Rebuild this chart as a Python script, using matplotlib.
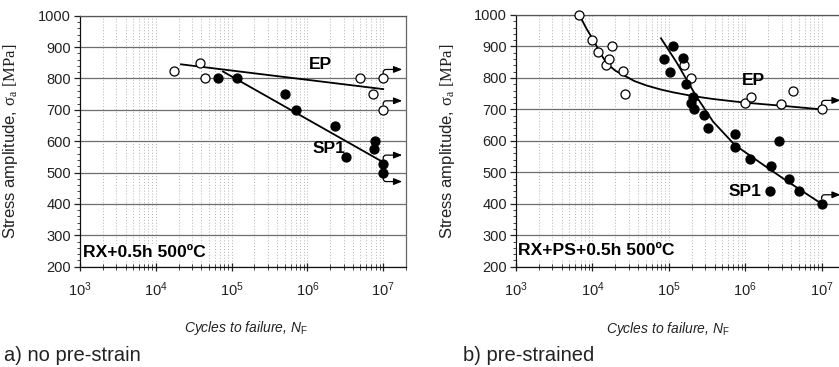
import matplotlib
matplotlib.use("Agg")
import matplotlib.pyplot as plt
import matplotlib.transforms as mtransforms
from matplotlib.ticker import LogLocator, FixedLocator, FixedFormatter, MultipleLocator, NullFormatter

plt.rcParams['font.family'] = ['Liberation Sans', 'DejaVu Sans']
plt.rcParams['mathtext.fontset'] = 'custom'
plt.rcParams['mathtext.rm'] = 'Liberation Sans'
plt.rcParams['mathtext.it'] = 'Liberation Sans:italic'
plt.rcParams['mathtext.bf'] = 'Liberation Sans:bold'
plt.rcParams['mathtext.tt'] = 'Liberation Serif'

# ---------------- data: panel a) no pre-strain ----------------
a_ep_N = [1.75e4, 3.8e4, 4.5e4, 5.0e6, 7.3e6, 1.0e7, 1.0e7]
a_ep_S = [825, 850, 800, 800, 750, 800, 700]
a_sp_N = [6.7e4, 1.17e5, 5.0e5, 7.1e5, 2.3e6, 3.2e6, 7.7e6, 7.6e6, 1.0e7, 1.0e7]
a_sp_S = [800, 800, 750, 700, 650, 550, 600, 575, 527, 500]
a_ep_fit_N = [2.15e4, 1.0e7]
a_ep_fit_S = [845, 766]
a_sp_fit_N = [7.7e4, 1.0e7]
a_sp_fit_S = [822, 533]
# run-outs (N, S, arrow direction)
a_runouts = [(1.0e7, 800, 1), (1.0e7, 700, 1), (1.0e7, 527, 1), (1.0e7, 500, -1)]

# ---------------- data: panel b) pre-strained ----------------
b_ep_N = [6.75e3, 1.0e4, 1.17e4, 1.49e4, 1.65e4, 1.82e4, 2.5e4, 2.7e4,
          1.6e5, 1.95e5, 1.0e6, 1.19e6, 2.9e6, 4.2e6, 1.0e7]
b_ep_S = [1000, 920, 881, 841, 860, 900, 821, 749,
          840, 801, 720, 740, 718, 760, 700]
b_sp_N = [8.7e4, 1.05e5, 1.15e5, 1.55e5, 1.7e5, 2.05e5, 1.95e5, 2.15e5,
          2.9e5, 3.3e5, 7.4e5, 7.4e5, 1.15e6, 2.15e6, 2.1e6, 2.8e6, 3.7e6, 5.1e6, 1.0e7]
b_sp_S = [860, 819, 900, 862, 780, 740, 720, 700,
          681, 640, 621, 580, 541, 520, 440, 600, 480, 441, 400]
b_ep_fit_N = [6.75e3, 8.3e3, 1.03e4, 1.26e4, 1.54e4, 2.0e4, 2.54e4, 3.55e4, 5.1e4,
              7.9e4, 1.15e5, 2.1e5, 3.8e5, 9.4e5, 3.2e6, 1.0e7]
b_ep_S_fit = [1000, 958, 920, 880, 846, 823, 809, 790, 776,
              763, 754, 742, 733, 722, 711, 700]
b_sp_fit_N = [7.9e4, 1.26e5, 2.0e5, 2.34e5, 3.8e5, 7.3e5, 2.0e6, 3.16e6, 5.6e6, 1.0e7]
b_sp_fit_S = [926, 850, 766, 738, 661, 587, 513, 480, 440, 400]
b_runouts = [(1.0e7, 700, 1), (1.0e7, 400, 1)]

x_ticks = [1e3, 1e4, 1e5, 1e6, 1e7]
x_ticklabels = [r'$10^{3}$', r'$10^{4}$', r'$10^{5}$', r'$10^{6}$', r'$10^{7}$']
y_ticks = [200, 300, 400, 500, 600, 700, 800, 900, 1000]

W, H = 839, 367
fig = plt.figure(figsize=(W / 100, H / 100), dpi=100)

def px_axes(x0, x1, ytop, ybot):
    return fig.add_axes([x0 / W, 1 - ybot / H, (x1 - x0) / W, (ybot - ytop) / H])

ax_a = px_axes(80, 406, 15.7, 266.7)
ax_b = px_axes(516, 844.6, 15.0, 266.7)


def style_axes(ax):
    ax.set_xscale('log')
    ax.set_xlim(1e3, 2e7)
    ax.set_ylim(200, 1000)
    ax.xaxis.set_major_locator(FixedLocator(x_ticks))
    ax.xaxis.set_major_formatter(FixedFormatter(x_ticklabels))
    ax.xaxis.set_minor_locator(LogLocator(base=10, subs=range(2, 10), numticks=20))
    ax.xaxis.set_minor_formatter(NullFormatter())
    ax.yaxis.set_major_locator(FixedLocator(y_ticks))
    ax.yaxis.set_minor_locator(MultipleLocator(20))
    ax.tick_params(axis='y', which='major', direction='out', length=4.5, width=0.9,
                   labelsize=10.5, pad=2, colors='#222222')
    ax.tick_params(axis='y', which='minor', direction='out', length=2.2, width=0.7, colors='#444444')
    ax.tick_params(axis='x', which='major', direction='inout', length=6, width=0.9,
                   labelsize=10.5, pad=7, colors='#222222')
    ax.tick_params(axis='x', which='minor', direction='inout', length=4, width=0.7, colors='#444444')
    ax.grid(True, axis='y', which='major', color='#6e6e6e', lw=0.9, ls='-')
    ax.grid(True, axis='x', which='both', color='#b4b4b4', lw=0.7, ls=(0, (1, 2)))
    ax.set_axisbelow(True)
    ax.spines['left'].set_color('#111111')
    ax.spines['bottom'].set_color('#111111')
    ax.spines['top'].set_color('#555555')
    ax.spines['right'].set_color('#666666')
    for s in ax.spines.values():
        s.set_linewidth(0.9)
    ax.set_ylabel(r'Stress amplitude, $\mathtt{\sigma}_{\mathtt{a}}$ $\mathtt{[MPa]}$',
                  fontsize=12, color='#222222')
    ax.set_xlabel(r'Cycles to failure, $N_{\mathrm{F}}$', fontsize=10, style='italic',
                  color='#222222')


def draw_runouts(ax, runouts):
    for (n, s, d) in runouts:
        tr = mtransforms.offset_copy(ax.transData, fig=fig, x=19, y=9 * d, units='dots')
        ax.annotate('', xy=(n, s), xycoords=tr, xytext=(n, s), textcoords='data',
                    arrowprops=dict(arrowstyle='-|>,head_length=0.5,head_width=0.2',
                                    connectionstyle='angle,angleA=90,angleB=0,rad=3',
                                    lw=0.9, color='black', shrinkA=3.5, shrinkB=0),
                    annotation_clip=False)


for ax in (ax_a, ax_b):
    style_axes(ax)

# ---- panel a ----
ax_a.plot(a_ep_fit_N, a_ep_fit_S, color='black', lw=1.3, zorder=3)
ax_a.plot(a_sp_fit_N, a_sp_fit_S, color='black', lw=1.3, zorder=3)
ax_a.plot(a_ep_N, a_ep_S, 'o', ms=6.5, mfc='white', mec='black', mew=0.9, zorder=4)
ax_a.plot(a_sp_N, a_sp_S, 'o', ms=6.5, mfc='black', mec='black', mew=0.9, zorder=4)
draw_runouts(ax_a, a_runouts)
ax_a.text(1.5e6, 845, 'EP', fontsize=12.5, fontweight='bold', ha='center', va='center')
ax_a.text(1.9e6, 578, 'SP1', fontsize=12.5, fontweight='bold', ha='center', va='center')
ax_a.text(1.09e3, 245, 'RX+0.5h 500ºC', fontsize=12.6, fontweight='bold', ha='left', va='center',
          bbox=dict(facecolor='white', edgecolor='none', pad=0.5), zorder=5)
ax_a.yaxis.set_label_coords(-0.185, 0.5)
ax_a.xaxis.set_label_coords(0.51, -0.21)

# ---- panel b ----
ax_b.plot(b_ep_fit_N, b_ep_S_fit, color='black', lw=1.3, zorder=3, clip_on=False)
ax_b.plot(b_sp_fit_N, b_sp_fit_S, color='black', lw=1.3, zorder=3)
ax_b.plot(b_ep_N, b_ep_S, 'o', ms=6.5, mfc='white', mec='black', mew=0.9, zorder=4, clip_on=False)
ax_b.plot(b_sp_N, b_sp_S, 'o', ms=6.5, mfc='black', mec='black', mew=0.9, zorder=4)
draw_runouts(ax_b, b_runouts)
ax_b.text(1.3e6, 793, 'EP', fontsize=12.5, fontweight='bold', ha='center', va='center')
ax_b.text(1.0e6, 440, 'SP1', fontsize=12.5, fontweight='bold', ha='center', va='center')
ax_b.text(1.05e3, 250, 'RX+PS+0.5h 500ºC', fontsize=12.6, fontweight='bold', ha='left', va='center',
          bbox=dict(facecolor='white', edgecolor='none', pad=0.5), zorder=5)
ax_b.yaxis.set_label_coords(-0.18, 0.5)
ax_b.xaxis.set_label_coords(0.463, -0.21)

fig.text(4 / W, 1 - 361 / H, 'a) no pre-strain', fontsize=14.5, ha='left', va='baseline', color='#222222')
fig.text(463 / W, 1 - 361 / H, 'b) pre-strained', fontsize=14.5, ha='left', va='baseline', color='#222222')

fig.savefig('out.png', dpi=100)
